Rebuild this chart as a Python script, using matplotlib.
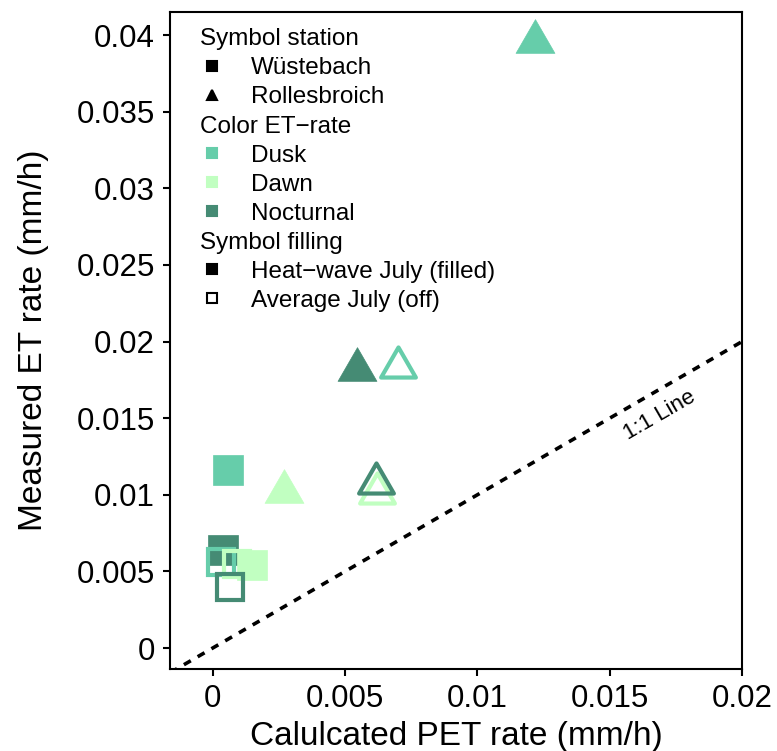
import matplotlib
matplotlib.use("Agg")
import matplotlib.pyplot as plt
import matplotlib.transforms as mtransforms
from matplotlib.lines import Line2D
from matplotlib.path import Path
from matplotlib.ticker import FuncFormatter
import numpy as np

plt.rcParams['font.family'] = ['Liberation Sans', 'DejaVu Sans']

# one entry per point
station = ['R', 'R', 'R', 'R', 'R', 'R',
           'W', 'W', 'W', 'W', 'W', 'W']
period = ['Dusk', 'Nocturnal', 'Dusk', 'Dawn', 'Nocturnal', 'Dawn',
          'Dusk', 'Nocturnal', 'Dusk', 'Dawn', 'Dawn', 'Nocturnal']
filled = [True, True, False, False, False, True,
          True, True, False, True, False, False]
pet = [0.01217, 0.00544, 0.00702, 0.00623, 0.00619, 0.00269,
       0.00058, 0.00040, 0.00032, 0.00149, 0.00092, 0.00066]
et = [0.03995, 0.01854, 0.01867, 0.01044, 0.01110, 0.01057,
      0.01162, 0.00640, 0.00561, 0.00542, 0.00548, 0.00398]

colors = {'Dusk': '#66CDAA', 'Dawn': '#C1FFC1', 'Nocturnal': '#458B74'}

xticks = [0, 0.005, 0.01, 0.015, 0.02]
yticks = [0, 0.005, 0.01, 0.015, 0.02, 0.025, 0.03, 0.035, 0.04]

# equilateral triangle, centred on its bounding box
tri = Path([(0, 0.866), (-1, -0.866), (1, -0.866), (0, 0.866)],
           [Path.MOVETO, Path.LINETO, Path.LINETO, Path.CLOSEPOLY])
markers = {'W': 's', 'R': tri}
sizes = {'W': 21.5, 'R': 28}

fig = plt.figure(figsize=(7.77, 7.51), dpi=100)
ax = fig.add_axes([0.219, 0.109, 0.736, 0.875])

lims = [-0.0016, 0.02]
ax.plot(lims, lims, color='black', linestyle=(0, (2.2, 2.2)), lw=2.6, zorder=1)
ax.text(0.0169, 0.0152, '1:1 Line', fontsize=16, rotation=45,
        transform_rotates_text=True, rotation_mode='anchor',
        ha='center', va='center')

for s, p, f, x, y in zip(station, period, filled, pet, et):
    c = colors[p]
    if f:
        ax.plot(x, y, marker=markers[s], ms=sizes[s], color=c,
                markeredgecolor=c, markeredgewidth=0.5, linestyle='none', zorder=2)
    else:
        ax.plot(x, y, marker=markers[s], ms=sizes[s] - 3, markerfacecolor='none',
                markeredgecolor=c, markeredgewidth=3, linestyle='none', zorder=2)

ax.set_xlim(-0.0016, 0.02)
ax.set_ylim(-0.00137, 0.0415)
ax.set_xticks(xticks)
ax.set_yticks(yticks)
fmt = FuncFormatter(lambda v, pos: '%g' % v)
ax.xaxis.set_major_formatter(fmt)
ax.yaxis.set_major_formatter(fmt)
ax.tick_params(direction='out', length=5, width=1.5, labelsize=22.5, pad=6,
               top=False, right=False)
for sp in ax.spines.values():
    sp.set_linewidth(1.5)

ax.set_xlabel('Calulcated PET rate (mm/h)', fontsize=24, labelpad=4.5)
ax.set_ylabel('Measured ET rate (mm/h)', fontsize=24, labelpad=20)

# legend: headers are blank handles, shifted left afterwards
blank = Line2D([], [], linestyle='none')
def key(m, fc, ec='black'):
    return Line2D([], [], marker=m, linestyle='none', ms=6.5,
                  markerfacecolor=fc, markeredgecolor=ec, markeredgewidth=1.5)

handles = [blank, key('s', 'black'), key('^', 'black'),
           blank, key('s', colors['Dusk'], colors['Dusk']),
           key('s', colors['Dawn'], colors['Dawn']),
           key('s', colors['Nocturnal'], colors['Nocturnal']),
           blank, key('s', 'black'), key('s', 'white')]
labels = ['Symbol station', 'Wüstebach', 'Rollesbroich',
          'Color ET\u2212rate', 'Dusk', 'Dawn', 'Nocturnal',
          'Symbol filling', 'Heat\u2212wave July (filled)', 'Average July (off)']
leg = ax.legend(handles, labels, loc='upper left', frameon=False, fontsize=17.5,
                handlelength=0.8, handletextpad=1.18, labelspacing=0.29,
                borderaxespad=0.0, bbox_to_anchor=(0.0395, 0.990))
for i, t in enumerate(leg.get_texts()):
    if labels[i] in ('Symbol station', 'Color ET\u2212rate', 'Symbol filling'):
        t.set_transform(t.get_transform() + mtransforms.Affine2D().translate(-51, 0))

fig.savefig('out.png', dpi=100)
